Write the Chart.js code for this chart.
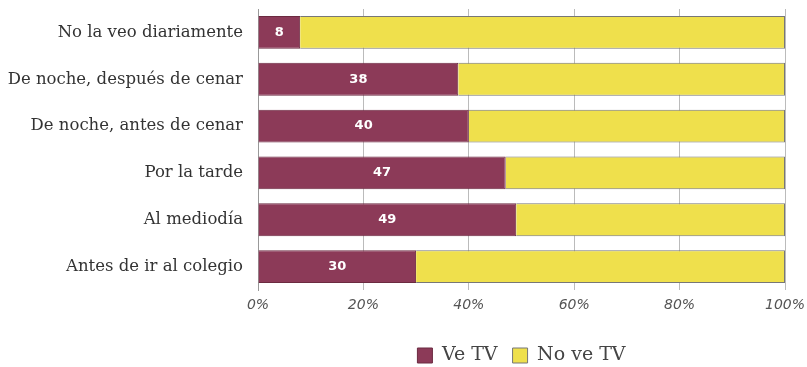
<!DOCTYPE html>
<html>
<head>
<meta charset="utf-8">
<script src="https://cdn.jsdelivr.net/npm/chart.js@4.4.1/dist/chart.umd.min.js"></script>
<style>
  html, body { margin: 0; padding: 0; background: #fff; }
  #wrap { width: 807px; height: 367px; }
</style>
</head>
<body>
<div id="wrap"><canvas id="grafico"></canvas></div>
<script>
// Datos
const categorias = [
  "No la veo diariamente",
  "De noche, después de cenar",
  "De noche, antes de cenar",
  "Por la tarde",
  "Al mediodía",
  "Antes de ir al colegio"
];
const veTV = [8, 38, 40, 47, 49, 30];
const noVeTV = [92, 62, 60, 53, 51, 70];
const ticksX = [0, 20, 40, 60, 80, 100];

// Etiquetas blancas dentro de las barras "Ve TV"
const etiquetas = {
  id: "etiquetas",
  afterDatasetsDraw(chart) {
    const ctx = chart.ctx;
    const meta = chart.getDatasetMeta(0);
    ctx.save();
    ctx.fillStyle = "#fff";
    ctx.font = "bold 13px 'DejaVu Sans'";
    ctx.textAlign = "center";
    ctx.textBaseline = "middle";
    meta.data.forEach((bar, i) => {
      const x = (bar.base + bar.x) / 2;
      ctx.fillText(String(veTV[i]), x, bar.y);
    });
    ctx.restore();
  }
};

new Chart(document.getElementById("grafico"), {
  type: "bar",
  data: {
    labels: categorias,
    datasets: [
      {
        label: "Ve TV",
        data: veTV,
        backgroundColor: "#8c3a58",
        borderColor: "#6b2a40",
        borderWidth: 1,
        categoryPercentage: 0.7,
        barPercentage: 1.0
      },
      {
        label: "No ve TV",
        data: noVeTV,
        backgroundColor: "#efe04c",
        borderColor: "#777",
        borderWidth: 1,
        categoryPercentage: 0.7,
        barPercentage: 1.0
      }
    ]
  },
  options: {
    indexAxis: "y",
    responsive: true,
    maintainAspectRatio: false,
    animation: false,
    layout: { padding: { top: 9, right: 22, bottom: -8, left: 0 } },
    scales: {
      x: {
        stacked: true,
        min: 0,
        max: 100,
        afterBuildTicks: (s) => { s.ticks = ticksX.map(v => ({ value: v })); },
        afterFit: (s) => { s.height = 41; s.paddingLeft = 0; s.paddingRight = 0; },
        grid: { color: "#bbb", drawTicks: false },
        border: { display: false },
        ticks: {
          color: "#555",
          font: { family: "'DejaVu Sans'", size: 14, style: "italic" },
          padding: 7,
          callback: (v) => v + "%"
        }
      },
      y: {
        stacked: true,
        afterFit: (s) => { s.width = 258; s.paddingTop = 0; s.paddingBottom = 0; },
        grid: { display: false, drawTicks: false },
        border: { color: "#999" },
        ticks: {
          color: "#333",
          font: { family: "'DejaVu Serif'", size: 16.5 },
          padding: 15
        }
      }
    },
    plugins: {
      legend: {
        position: "bottom",
        fullSize: false,
        labels: {
          color: "#444",
          font: { family: "'DejaVu Serif'", size: 19 },
          boxWidth: 15,
          boxHeight: 15,
          padding: 15
        }
      },
      tooltip: { enabled: false }
    }
  },
  plugins: [etiquetas]
});
</script>
</body>
</html>
